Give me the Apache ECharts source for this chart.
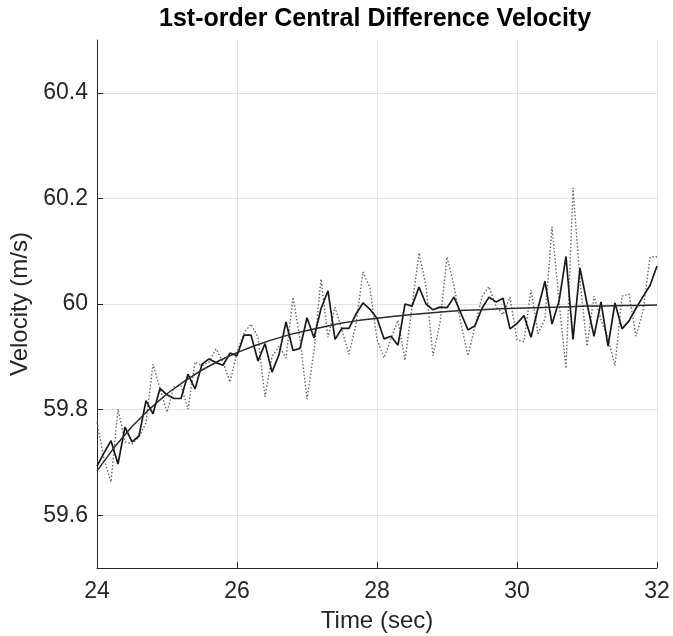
<!DOCTYPE html>
<html>
<head>
<meta charset="utf-8">
<script src="https://cdn.jsdelivr.net/npm/echarts@6/dist/echarts.min.js"></script>
<style>
html,body{margin:0;padding:0;background:#fff;}
#chart{width:673px;height:636px;}
</style>
</head>
<body>
<div id="chart"></div>
<script>
const titleText = '1st-order Central Difference Velocity';
const xName = 'Time (sec)';
const yName = 'Velocity (m/s)';
const xTicks = [24, 26, 28, 30, 32];
const yTicks = [59.6, 59.8, 60, 60.2, 60.4];

const times = [24.0,24.1,24.2,24.3,24.4,24.5,24.6,24.7,24.8,24.9,
  25.0,25.1,25.2,25.3,25.4,25.5,25.6,25.7,25.8,25.9,
  26.0,26.1,26.2,26.3,26.4,26.5,26.6,26.7,26.8,26.9,
  27.0,27.1,27.2,27.3,27.4,27.5,27.6,27.7,27.8,27.9,
  28.0,28.1,28.2,28.3,28.4,28.5,28.6,28.7,28.8,28.9,
  29.0,29.1,29.2,29.3,29.4,29.5,29.6,29.7,29.8,29.9,
  30.0,30.1,30.2,30.3,30.4,30.5,30.6,30.7,30.8,30.9,
  31.0,31.1,31.2,31.3,31.4,31.5,31.6,31.7,31.8,31.9,32.0];

const centralDiff = [59.693,59.718,59.741,59.697,59.767,59.739,59.750,59.817,59.792,59.840,
  59.828,59.821,59.821,59.867,59.839,59.886,59.896,59.889,59.884,59.907,
  59.902,59.941,59.941,59.892,59.925,59.871,59.904,59.966,59.912,59.916,
  59.974,59.936,59.991,60.025,59.933,59.954,59.954,59.981,60.002,59.990,
  59.973,59.934,59.939,59.922,60.000,59.996,60.032,60.000,59.989,59.994,
  59.993,60.013,59.982,59.951,59.959,59.992,60.013,60.004,60.011,59.953,
  59.963,59.978,59.937,59.992,60.043,59.962,60.005,60.090,59.933,60.068,
  60.001,59.939,60.004,59.920,60.002,59.953,59.968,59.992,60.014,60.035,60.072];

const rawVelocity = [59.776,59.706,59.663,59.801,59.739,59.735,59.748,59.775,59.886,59.840,
  59.795,59.843,59.845,59.801,59.890,59.883,59.890,59.915,59.890,59.852,
  59.908,59.945,59.962,59.937,59.824,59.900,59.920,59.898,60.013,59.934,
  59.820,59.911,60.047,59.937,59.994,59.950,59.905,59.962,60.061,60.030,
  59.933,59.898,59.934,59.969,59.893,59.996,60.097,60.034,59.902,59.964,
  60.089,60.035,59.962,59.902,59.958,60.014,60.033,59.996,59.980,60.013,
  59.932,59.929,60.027,59.944,59.972,60.146,60.005,59.878,60.220,60.045,
  59.920,60.015,59.970,59.935,59.883,60.015,60.019,59.939,59.987,60.089,60.089];

const trueTimes = [24.0,24.25,24.5,24.75,25.0,25.25,25.5,25.75,26.0,26.25,26.5,26.75,
  27.0,27.25,27.5,27.75,28.0,28.25,28.5,28.75,29.0,29.25,29.5,29.75,
  30.0,30.25,30.5,30.75,31.0,31.25,31.5,31.75,32.0];
const trueVelocity = [59.684,59.729,59.768,59.801,59.830,59.854,59.875,59.893,59.908,59.921,59.932,59.942,
  59.950,59.957,59.964,59.969,59.973,59.977,59.980,59.983,59.986,59.988,59.989,59.991,
  59.992,59.993,59.994,59.995,59.996,59.996,59.997,59.997,59.998];

function pairs(xs, ys){ return xs.map((x,i)=>[x, ys[i]]); }

const FONT = '"Liberation Sans", Arial, Helvetica, sans-serif';
const AX = '#262626';

const chart = echarts.init(document.getElementById('chart'), null, {renderer:'canvas'});
chart.setOption({
  animation: false,
  backgroundColor: '#ffffff',
  title: {
    text: titleText,
    left: 154, top: 2,
    textStyle: {fontFamily: FONT, fontWeight: 'bold', fontSize: 25, color: '#000'}
  },
  grid: {left: 97, right: 16, top: 40, bottom: 68, containLabel: false, outerBoundsMode: 'none'},
  xAxis: {
    type: 'value', min: 24, max: 32, interval: 2,
    name: xName, nameLocation: 'middle', nameGap: 41,
    nameTextStyle: {fontFamily: FONT, fontSize: 24, color: AX},
    axisLine: {show: true, lineStyle: {color: AX, width: 1}},
    axisTick: {show: true, inside: true, length: 6, lineStyle: {color: AX}, customValues: xTicks},
    axisLabel: {fontFamily: FONT, fontSize: 23, color: AX, margin: 12, customValues: xTicks},
    splitLine: {show: true, lineStyle: {color: '#e3e3e3', width: 1}}
  },
  yAxis: {
    type: 'value', min: 59.5, max: 60.5,
    name: yName, nameLocation: 'middle', nameGap: 64,
    nameTextStyle: {fontFamily: FONT, fontSize: 24, color: AX},
    axisLine: {show: true, lineStyle: {color: AX, width: 1}},
    axisTick: {show: true, inside: true, length: 6, lineStyle: {color: AX}, customValues: yTicks},
    axisLabel: {fontFamily: FONT, fontSize: 23, color: AX, margin: 9, customValues: yTicks,
      formatter: v => String(Math.round(v*10)/10)},
    splitLine: {show: true, lineStyle: {color: '#e3e3e3', width: 1}}
  },
  series: [
    {
      type: 'line', data: pairs(times, rawVelocity), showSymbol: false,
      lineStyle: {color: '#666666', width: 1.4, type: [1.5, 2]}, z: 2
    },
    {
      type: 'line', data: pairs(times, centralDiff), showSymbol: false,
      lineStyle: {color: '#1a1a1a', width: 1.7}, z: 3
    },
    {
      type: 'line', data: pairs(trueTimes, trueVelocity), showSymbol: false,
      lineStyle: {color: '#2a2a2a', width: 1.5}, z: 4
    }
  ]
});
</script>
</body>
</html>
